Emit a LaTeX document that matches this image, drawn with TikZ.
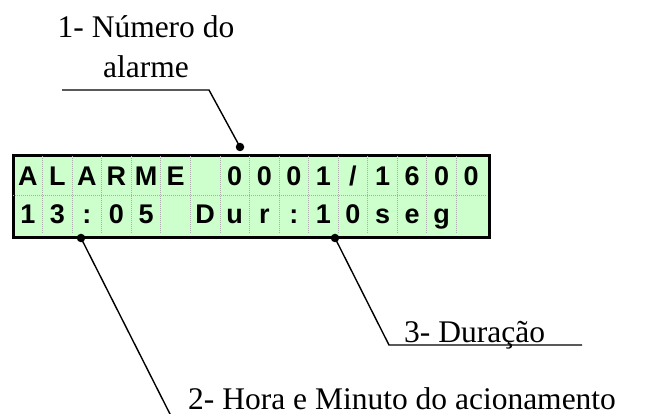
\documentclass[tikz,border=0pt]{standalone}
\usepackage{fontspec}
\setmainfont{Liberation Serif}
\setsansfont{Liberation Sans}
\definecolor{lcdgreen}{HTML}{CCFFCC}
\begin{document}
\begin{tikzpicture}[x=1pt,y=-1pt,
  lcdchar/.style={anchor=base, inner sep=0pt, font=\sffamily\bfseries\fontsize{27}{28}\selectfont},
  callout/.style={font=\fontsize{31.5}{40}\selectfont, inner sep=0pt},
  leader/.style={line width=1.4pt},
  dotmark/.style={circle, fill=black, inner sep=0pt, minimum size=8.5pt},
  cellsep/.style={draw=gray!65, line width=0.8pt, dash pattern=on 1pt off 1pt}]
\useasboundingbox (0,0) rectangle (649,414);
% LCD panel
\node[draw, line width=3pt, fill=lcdgreen, minimum width=476pt, minimum height=82pt,
      inner sep=0pt, anchor=north west] (lcd) at (11.5,154.5) {};
\foreach \k in {1,...,15}
  \draw[cellsep] ({13+29.5625*\k},156) -- ({13+29.5625*\k},234);
\draw[cellsep] (13,195) -- (486,195);
% row 1
\foreach \i/\ch in {1/A,2/L,3/A,4/R,5/M,6/E,8/0,9/0,10/0,11/1,12/\slash,13/1,14/6,15/0,16/0}
  \node[lcdchar] (r1c\i) at ({13+29.5625*(\i-0.5)},186) {\ch};
% row 2
\foreach \i/\ch in {1/1,2/3,3/:,4/0,5/5,7/D,8/u,9/r,10/:,11/1,12/0,13/s,14/e,15/g}
  \node[lcdchar] (r2c\i) at ({13+29.5625*(\i-0.5)},224) {\ch};
% dots
\node[dotmark] (d1) at (240,147) {};
\node[dotmark] (d2) at (81,238) {};
\node[dotmark] (d3) at (335,238) {};
% leader points
\coordinate (e1) at (209,90);
\coordinate (f1) at (62,90);
\coordinate (e2) at (171,416);
\coordinate (e3) at (389,345);
\coordinate (f3) at (582,345);
\draw[leader] (d1.center) -- (e1) -- (f1);
\draw[leader] (d2.center) -- (e2);
\draw[leader] (d3.center) -- (e3) -- (f3);
% labels
\node[callout, anchor=base] (t1a) at (146,38) {1- Número do};
\node[callout, anchor=base] (t1b) at (146,78) {alarme};
\node[callout, anchor=base west] (t3) at (404,343) {3- Duração};
\node[callout, anchor=base west] (t2) at (188,410) {2- Hora e Minuto do acionamento};
\end{tikzpicture}
\end{document}
